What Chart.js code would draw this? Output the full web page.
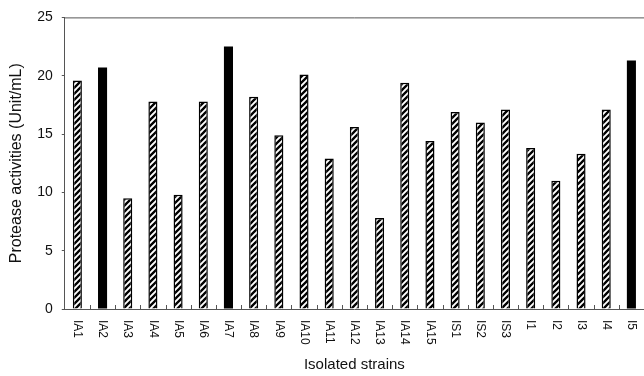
<!DOCTYPE html>
<html>
<head>
<meta charset="utf-8">
<script src="https://cdn.jsdelivr.net/npm/chart.js@4/dist/chart.umd.min.js"></script>
<style>
  html, body { margin: 0; padding: 0; background: #fff; overflow: hidden; }
  #wrap { width: 644px; height: 376px; }
</style>
</head>
<body>
<div id="wrap"><canvas id="chart-canvas" width="644" height="376"></canvas></div>
<script>
const STRAINS = ["IA1", "IA2", "IA3", "IA4", "IA5", "IA6", "IA7", "IA8", "IA9", "IA10", "IA11",
                 "IA12", "IA13", "IA14", "IA15", "IS1", "IS2", "IS3", "I1", "I2", "I3", "I4", "I5"];
const ACTIVITY = [19.6, 20.7, 9.5, 17.8, 9.8, 17.8, 22.5, 18.2, 14.9, 20.1, 12.9,
                  15.6, 7.8, 19.4, 14.4, 16.9, 16.0, 17.1, 13.8, 11.0, 13.3, 17.1, 21.3];
const SOLID = ["IA2", "IA7", "I5"];
const Y_TICKS = [0, 5, 10, 15, 20, 25];
const X_TITLE = "Isolated strains";
const Y_TITLE = "Protease activities (Unit/mL)";
const FONT = "'Liberation Sans', Arial, sans-serif";

// diagonal hatch fill
function hatch() {
    const s = 6;
    const c = document.createElement("canvas");
    c.width = s;
    c.height = s;
    const g = c.getContext("2d");
    g.fillStyle = "#fff";
    g.fillRect(0, 0, s, s);
    g.strokeStyle = "#000";
    g.lineWidth = 2.3;
    g.beginPath();
    g.moveTo(-1, s + 1); g.lineTo(s + 1, -1);
    g.moveTo(-1, 1); g.lineTo(1, -1);
    g.moveTo(s - 1, s + 1); g.lineTo(s + 1, s - 1);
    g.stroke();
    return g.createPattern(c, "repeat");
}

const context = document.getElementById("chart-canvas").getContext("2d");
const stripes = hatch();

const frame = {
    id: "frame",
    afterDraw(chart) {
        const ctx = chart.ctx;
        const a = chart.chartArea;
        const x = chart.scales.x;
        ctx.save();
        ctx.strokeStyle = "#555";
        ctx.lineWidth = 1;
        ctx.beginPath();
        ctx.moveTo(a.left, a.top + 0.5);
        ctx.lineTo(a.right, a.top + 0.5);
        // small inward ticks between categories
        for (let i = 1; i < STRAINS.length; i++) {
            const px = Math.round((x.getPixelForValue(i - 1) + x.getPixelForValue(i)) / 2) + 0.5;
            ctx.moveTo(px, a.bottom);
            ctx.lineTo(px, a.bottom - 4);
        }
        ctx.stroke();

        // category labels, reading top to bottom
        ctx.fillStyle = "#111";
        ctx.font = "12px " + FONT;
        ctx.textAlign = "left";
        ctx.textBaseline = "middle";
        STRAINS.forEach(function (s, i) {
            ctx.save();
            ctx.translate(x.getPixelForValue(i), a.bottom + 11);
            ctx.rotate(Math.PI / 2);
            ctx.fillText(s, 0, 0);
            ctx.restore();
        });

        ctx.font = "15px " + FONT;
        ctx.textAlign = "center";
        ctx.fillText(X_TITLE, (a.left + a.right) / 2, 365);
        ctx.restore();
    }
};

const chart = new Chart(context, {
    type: "bar",
    data: {
        labels: STRAINS,
        datasets: [{
            data: ACTIVITY,
            backgroundColor: STRAINS.map(s => SOLID.includes(s) ? "#000" : stripes),
            borderColor: "#000",
            borderWidth: STRAINS.map(s => SOLID.includes(s) ? 0 : 1.5),
            barPercentage: 0.36,
            categoryPercentage: 1
        }]
    },
    options: {
        responsive: false,
        animation: false,
        layout: { padding: { top: 10, right: 0, left: 7, bottom: 59 } },
        plugins: {
            legend: { display: false },
            tooltip: { enabled: false }
        },
        scales: {
            x: {
                grid: { display: false },
                border: { display: true, color: "#555" },
                ticks: { display: false }
            },
            y: {
                min: 0,
                max: 25,
                afterBuildTicks: function (axis) {
                    axis.ticks = Y_TICKS.map(v => ({ value: v }));
                },
                grid: { drawOnChartArea: false, tickLength: 3, color: "#555" },
                border: { color: "#555" },
                ticks: {
                    color: "#111",
                    padding: 9,
                    font: { size: 14, family: FONT }
                },
                title: {
                    display: true,
                    text: Y_TITLE,
                    color: "#111",
                    padding: { top: 0, bottom: 2 },
                    font: { size: 16, family: FONT }
                }
            }
        }
    },
    plugins: [frame]
});
</script>
</body>
</html>
